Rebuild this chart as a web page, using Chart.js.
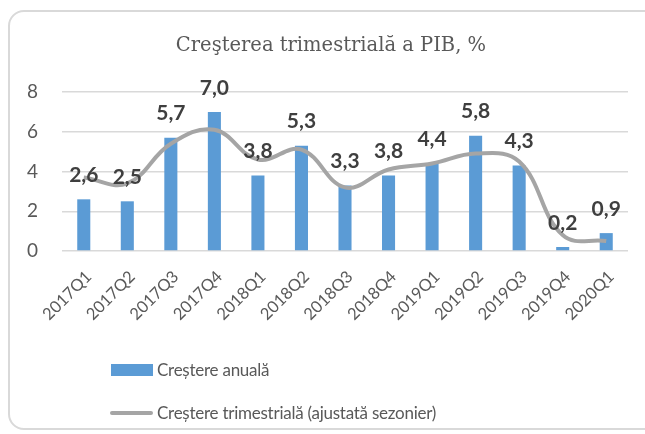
<!DOCTYPE html>
<html>
<head>
<meta charset="utf-8">
<script src="https://cdn.jsdelivr.net/npm/chart.js@4/dist/chart.umd.min.js"></script>
<style>
  html, body { margin: 0; padding: 0; background: #fff; }
  body { width: 645px; height: 434px; overflow: hidden; position: relative; font-family: Lato, sans-serif; }
  #frame { position: absolute; left: 8px; top: 10px; width: 660px; height: 420px; border: 2px solid #d9d9d9; border-radius: 16px; box-sizing: border-box; }
  #chart { position: absolute; left: 0; top: 0; }
  #title { position: absolute; left: 331px; top: 32px; transform: translateX(-50%); white-space: nowrap;
           font-family: "DejaVu Serif", serif; font-size: 19.5px; color: #595959; line-height: 26px; }
  .leg { position: absolute; left: 157px; font-size: 17px; letter-spacing: -0.25px; color: #595959; line-height: 20px; white-space: nowrap; }
  .swatch { position: absolute; }
</style>
</head>
<body>
<div id="frame"></div>
<canvas id="chart" width="645" height="434"></canvas>
<div id="title">Creşterea trimestrială a PIB, %</div>
<div class="swatch" style="left:111px;top:364px;width:42px;height:12px;background:#5B9BD5"></div>
<div class="leg" style="top:360px">Creștere anuală</div>
<div class="swatch" style="left:110px;top:411px;width:43px;height:4px;background:#A5A5A5;border-radius:2px"></div>
<div class="leg" style="top:403px">Creștere trimestrială (ajustată sezonier)</div>
<script>
// quarters on the x axis
const quarters = ["2017Q1", "2017Q2", "2017Q3", "2017Q4", "2018Q1", "2018Q2", "2018Q3",
  "2018Q4", "2019Q1", "2019Q2", "2019Q3", "2019Q4", "2020Q1"];
// annual growth (bars)
const annualGrowth = [2.6, 2.5, 5.7, 7.0, 3.8, 5.3, 3.3, 3.8, 4.4, 5.8, 4.3, 0.2, 0.9];
// quarterly growth, seasonally adjusted (line)
const quarterlyGrowth = [3.7, 3.4, 5.4, 6.1, 4.6, 5.1, 3.2, 4.1, 4.4, 4.9, 4.5, 0.8, 0.5];
const yTicks = [0, 2, 4, 6, 8];

const barLabels = {
  id: "barLabels",
  afterDatasetsDraw(chart) {
    const ctx = chart.ctx;
    const meta = chart.getDatasetMeta(0);
    ctx.save();
    ctx.font = "bold 21px Lato, sans-serif";
    ctx.fillStyle = "#3f3f3f";
    ctx.textAlign = "center";
    ctx.textBaseline = "middle";
    meta.data.forEach((bar, i) => {
      ctx.fillText(annualGrowth[i].toFixed(1).replace(".", ","), bar.x, bar.y - 24);
    });
    ctx.restore();
  },
};

new Chart(document.getElementById("chart"), {
  data: {
    labels: quarters,
    datasets: [
      {
        type: "bar",
        label: "Creștere anuală",
        data: annualGrowth,
        backgroundColor: "#5B9BD5",
        barPercentage: 0.3,
        categoryPercentage: 1,
        order: 1,
      },
      {
        type: "line",
        label: "Creștere trimestrială (ajustată sezonier)",
        data: quarterlyGrowth,
        borderColor: "#A5A5A5",
        borderWidth: 4,
        pointRadius: 0,
        tension: 0.4,
        fill: false,
        order: 0,
      },
    ],
  },
  options: {
    responsive: false,
    animation: false,
    layout: { padding: { left: 8, right: 17, top: 92, bottom: 103 } },
    plugins: { legend: { display: false }, tooltip: { enabled: false } },
    scales: {
      x: {
        offset: true,
        grid: { display: false },
        border: { display: false },
        ticks: { color: "#595959", font: { family: "Lato", size: 16.5 }, minRotation: 45, maxRotation: 45, padding: 8, labelOffset: 5 },
        afterFit(scale) { scale.height = 80; },
      },
      y: {
        min: 0,
        max: 8,
        afterBuildTicks(scale) { scale.ticks = yTicks.map((v) => ({ value: v })); },
        grid: { color: "#d9d9d9", lineWidth: 1.5, drawTicks: false },
        border: { display: false },
        ticks: { color: "#595959", font: { family: "Lato", size: 19 }, padding: 24 },
        afterFit(scale) { scale.width = 54; },
      },
    },
  },
  plugins: [barLabels],
});
</script>
</body>
</html>
